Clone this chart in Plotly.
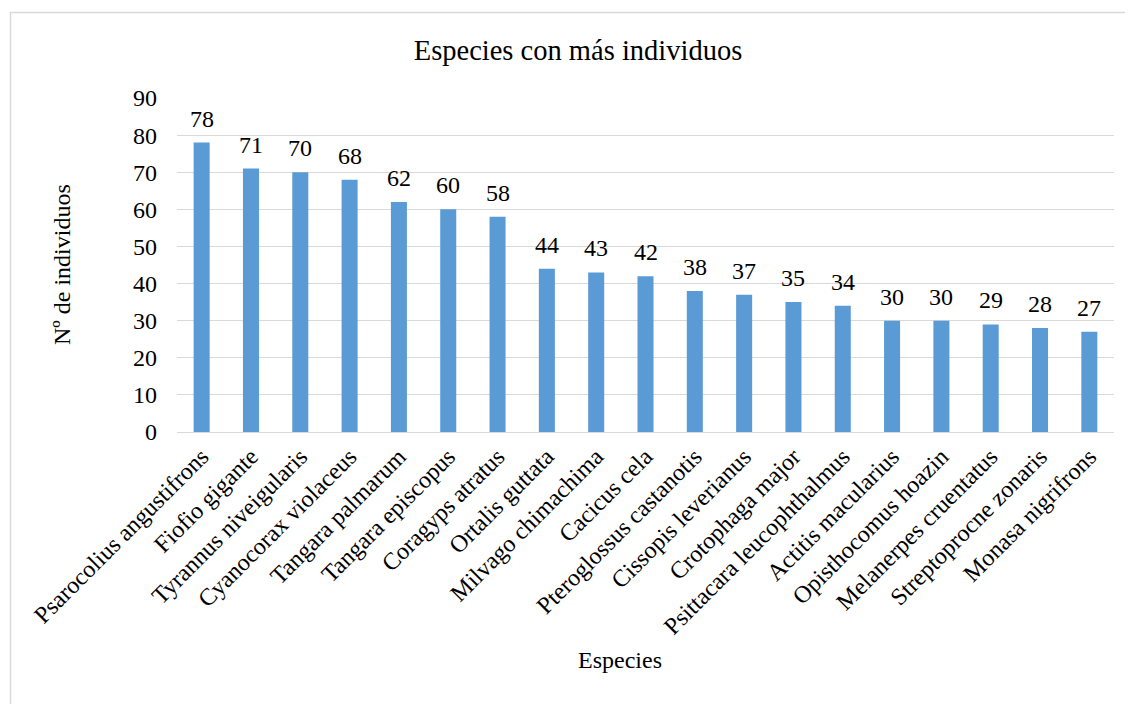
import plotly.graph_objects as go

species = ["Psarocolius angustifrons", "Fiofio gigante", "Tyrannus niveigularis",
           "Cyanocorax violaceus", "Tangara palmarum", "Tangara episcopus",
           "Coragyps atratus", "Ortalis guttata", "Milvago chimachima", "Cacicus cela",
           "Pteroglossus castanotis", "Cissopis leverianus", "Crotophaga major",
           "Psittacara leucophthalmus", "Actitis macularius", "Opisthocomus hoazin",
           "Melanerpes cruentatus", "Streptoprocne zonaris", "Monasa nigrifrons"]
counts = [78, 71, 70, 68, 62, 60, 58, 44, 43, 42, 38, 37, 35, 34, 30, 30, 29, 28, 27]
y_ticks = [0, 10, 20, 30, 40, 50, 60, 70, 80, 90]

# page body has an 8px margin; figure coordinates = reference coordinates - 8
OFF = 8
W, H = 1133 - OFF, 704 - OFF
L, T = 177 - OFF, 98 - OFF
R = W - (1114 - OFF)
B = H - (432 - OFF)
pw, ph = W - L - R, H - T - B

FONT = "Liberation Serif"
FS = 24

fig = go.Figure(go.Bar(
    x=species, y=counts, marker=dict(color="#5B9BD5", line=dict(width=0)),
))

for s, c in zip(species, counts):
    fig.add_annotation(x=s, y=c, text=str(c), showarrow=False, yshift=24,
                       xanchor="center", yanchor="middle",
                       font=dict(family=FONT, size=FS, color="#000"))

fig.update_layout(
    width=W, height=H, margin=dict(l=L, r=R, t=T, b=B, autoexpand=False),
    paper_bgcolor="white", plot_bgcolor="white", bargap=0.675,
    font=dict(family=FONT, color="#000000"),
    showlegend=False,
    title=dict(text="Especies con más individuos", x=(578 - OFF) / W, xref="container",
               xanchor="center", y=1 - (50 - OFF) / H, yanchor="middle",
               font=dict(family=FONT, size=28.5, color="#000")),
)
fig.update_yaxes(range=[0, 90], tickvals=y_ticks, showgrid=True, gridcolor="#D9D9D9",
                 gridwidth=1, zeroline=False, showline=False, ticks="",
                 tickfont=dict(family=FONT, size=FS, color="#000"), ticklabelstandoff=19)
fig.update_xaxes(tickangle=-45, showgrid=False, showline=True, linecolor="#D9D9D9",
                 linewidth=1, ticks="", tickfont=dict(family=FONT, size=FS, color="#000"))

fig.add_annotation(text="Nº de individuos", xref="paper", yref="paper",
                   x=(62 - OFF - L) / pw, y=(H - B - (265 - OFF)) / ph, textangle=-90,
                   showarrow=False, font=dict(family=FONT, size=FS, color="#000"),
                   xanchor="center", yanchor="middle")
fig.add_annotation(text="Especies", xref="paper", yref="paper",
                   x=(620 - OFF - L) / pw, y=(H - B - (660 - OFF)) / ph, showarrow=False,
                   font=dict(family=FONT, size=FS, color="#000"),
                   xanchor="center", yanchor="middle")

fig.add_shape(type="rect", xref="paper", yref="paper",
              x0=(10.5 - OFF - L) / pw, x1=(1145 - OFF - L) / pw,
              y0=(H - B - (715 - OFF)) / ph, y1=(H - B - (12.5 - OFF)) / ph,
              line=dict(color="#D9D9D9", width=1.5), fillcolor="rgba(0,0,0,0)", layer="below")

fig.write_html("out.html")
